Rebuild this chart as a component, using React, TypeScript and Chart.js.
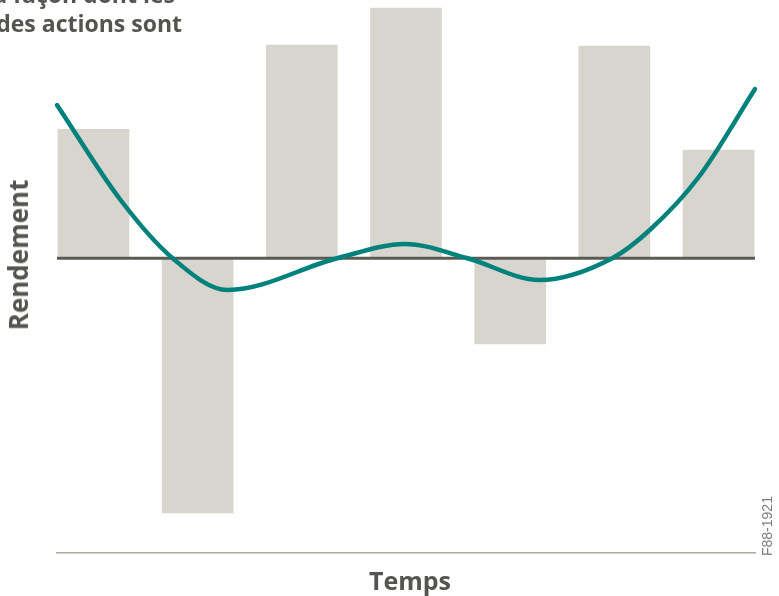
import React, { useEffect, useRef } from "react";
import { Chart, registerables } from "chart.js";

Chart.register(...registerables);

// Bars: period index and return (arbitrary units)
const barPeriods = [0, 1, 2, 3, 4, 5, 6];
const barReturns = [5.16, -10.19, 8.53, 10.01, -3.43, 8.49, 4.33];

// Smooth trend line
const lineX = [-0.35, 0.26, 0.76, 1.29, 2.34, 2.99, 3.59, 4.28, 4.98, 5.34, 5.81, 6.35];
const lineY = [6.13, 2.33, 0, -1.27, 0, 0.57, 0, -0.87, 0, 1.13, 3.25, 6.77];

const xMin = -0.35;
const xMax = 6.35;
const yMin = -11.79;
const yMax = 10.33;

const titleLine1 = "la façon dont les";
const titleLine2 = "des actions sont";
const yTitle = "Rendement";
const xTitle = "Temps";
const figId = "F88-1921";

const textColor = "#545450";

const zeroLinePlugin = {
  id: "zeroLine",
  beforeDatasetDraw(chart: any, args: any) {
    if (args.index !== 1) return;
    const { ctx, chartArea, scales } = chart;
    const y = scales.y.getPixelForValue(0);
    ctx.save();
    ctx.strokeStyle = "#5b5b56";
    ctx.lineWidth = 3;
    ctx.beginPath();
    ctx.moveTo(chartArea.left, y);
    ctx.lineTo(chartArea.right, y);
    ctx.stroke();
    ctx.restore();
  },
};

export default function App() {
  const ref = useRef<HTMLCanvasElement | null>(null);

  useEffect(() => {
    if (!ref.current) return;
    const chart = new Chart(ref.current, {
      type: "bar",
      data: {
        datasets: [
          {
            type: "bar",
            data: barPeriods.map((p, i) => ({ x: p, y: barReturns[i] })),
            backgroundColor: "#d8d5cf",
            borderWidth: 0,
            barThickness: 71,
            order: 1,
          } as any,
          {
            type: "line",
            data: lineX.map((x, i) => ({ x, y: lineY[i] })),
            borderColor: "#00827c",
            borderWidth: 4.5,
            borderCapStyle: "round",
            cubicInterpolationMode: "monotone",
            pointRadius: 0,
            fill: false,
            clip: false,
            order: 0,
          } as any,
        ],
      },
      options: {
        animation: false,
        responsive: false,
        layout: { padding: { left: 57, right: 24, top: 0, bottom: 43 } },
        plugins: {
          legend: { display: false },
          tooltip: { enabled: false },
          title: { display: false },
        },
        scales: {
          x: {
            type: "linear",
            min: xMin,
            max: xMax,
            offset: false,
            grid: { display: false, drawTicks: false },
            ticks: { display: false },
            border: { display: true, color: "#a9aa9f", width: 1.5 },
          },
          y: {
            type: "linear",
            min: yMin,
            max: yMax,
            grid: { display: false, drawTicks: false },
            ticks: { display: false },
            border: { display: false },
          },
        },
      },
      plugins: [zeroLinePlugin],
    });
    return () => chart.destroy();
  }, []);

  const bold: React.CSSProperties = {
    position: "absolute",
    fontFamily: "'Open Sans', sans-serif",
    fontWeight: 700,
    color: textColor,
    whiteSpace: "nowrap",
    lineHeight: 1,
  };

  return (
    <div
      style={{
        position: "fixed",
        left: 0,
        top: 0,
        width: 779,
        height: 596,
        overflow: "hidden",
        background: "#ffffff",
      }}
    >
      <canvas ref={ref} width={779} height={596} style={{ position: "absolute", left: 0, top: 0, width: 779, height: 596 }} />
      <div style={{ ...bold, fontSize: 23, right: 779 - 175, top: -17 }}>{titleLine1}</div>
      <div style={{ ...bold, fontSize: 23, right: 779 - 182, top: 12 }}>{titleLine2}</div>
      <div
        style={{
          ...bold,
          fontSize: 26,
          left: 18,
          top: 255,
          transform: "translate(-50%, -50%) rotate(-90deg)",
        }}
      >
        {yTitle}
      </div>
      <div style={{ ...bold, fontSize: 25, left: 410, top: 580, transform: "translate(-50%, -50%)" }}>{xTitle}</div>
      <div
        style={{
          position: "absolute",
          fontFamily: "'Liberation Sans', Arial, sans-serif",
          fontSize: 14,
          color: "#7d7d7a",
          left: 767,
          top: 526,
          whiteSpace: "nowrap",
          lineHeight: 1,
          transform: "translate(-50%, -50%) rotate(-90deg)",
        }}
      >
        {figId}
      </div>
    </div>
  );
}
